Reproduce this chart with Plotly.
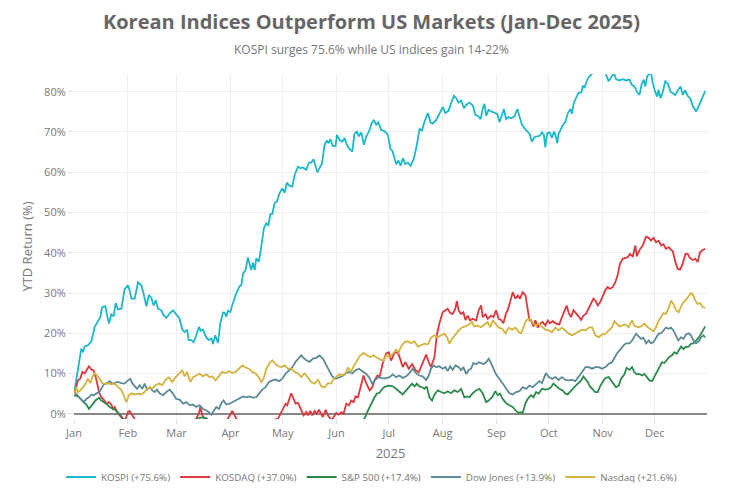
import pandas as pd
import plotly.graph_objects as go

# ---- data: (day offset from 2025-01-01, YTD return %) ----
kospi = [(0,5.0),(1.5,9),(2.9,13.3),(4.2,16.2),(5.2,15.3),(6.1,16.7),(8,17),(10,18),(11.9,21.6),(13.8,22.8),(15.1,23.9),(16.1,26.4),(18,26.7),(19,24.5),(20.1,22.4),(21.5,24.7),(22.8,24.2),(24,27.5),(25.3,25.9),(27.2,26.1),(29.1,30.9),(31,31.9),(32,30.7),(33,28.6),(34.9,28.6),(36.8,32.6),(38.7,31.9),(40,29.9),(41.6,26.7),(43.1,29.5),(44.5,28.8),(45.8,26.9),(47,28.2),(48.3,26.1),(50.2,25.7),(51.5,24.5),(53.1,23.8),(55,24.9),(56.9,25.7),(58.8,24.7),(60.7,23.6),(62.3,20.9),(63.6,20.3),(65,20.9),(66,18.3),(67.5,18.3),(68.8,17.8),(70.3,19.5),(71.9,21.6),(72.8,20.6),(74.2,20.9),(76.1,18.9),(77.6,18.3),(79,18.7),(79.9,17.3),(81.2,19.5),(82.8,17.6),(84.1,22.4),(85.7,25.1),(86.6,25.1),(87.6,24.1),(88.5,25.6),(89.9,25.3),(91.4,27.5),(93.3,29.9),(95.2,31.7),(96.2,31.9),(97.2,34.8),(98.7,35.8),(100,38.8),(101,37.2),(101.9,35.7),(102.9,37.5),(103.9,35.7),(104.8,38.6),(106.3,37.8),(107.7,41.5),(109.2,46.1),(110.6,47.4),(111.7,46.7),(112.9,49.6),(114,49.6),(115.4,52.4),(116.7,52.7),(118.2,54.8),(119.8,56),(121.1,54.9),(122.4,57.4),(124,56.6),(125.5,56.4),(126.9,59.3),(128.8,61.4),(130.1,61),(131.6,61.2),(133.6,60.6),(135.1,62.4),(136.4,62.4),(137.8,63.2),(138.7,61.8),(139.9,60),(141.2,61),(142.6,62.2),(144.1,66.8),(145.4,67.9),(146.4,67.2),(147.4,68.2),(148.9,66.5),(150.4,66.5),(151.2,69.3),(152.7,68),(154.3,67.6),(155.6,68.5),(156.9,66.8),(158.5,65.7),(160,65.1),(161.3,69.5),(162.7,70.1),(163.8,68.9),(165.2,69.9),(166.7,66.8),(168.1,68.9),(169.6,70.1),(170.9,71.8),(172.3,73),(173.8,71.8),(174.9,72.4),(176.7,70.5),(178.6,70.2),(180.5,69.3),(182,65.7),(183,65.4),(184,63.9),(185.3,62),(186.6,62.9),(187.8,61.6),(189.1,63.5),(190.5,62),(192,62.4),(193.5,61.6),(195.5,63.5),(196.8,66),(198.7,70.7),(200.1,70.4),(201.6,72.6),(203.5,74.7),(205,72.4),(206.4,72.1),(208.3,73),(210.2,74.8),(212.1,76.2),(213.5,74.7),(215.4,75.3),(216.9,77.2),(218.5,79),(219.8,78.4),(221.1,77.3),(222.7,77.8),(224.2,75.9),(225.5,76.7),(227.5,77.3),(229.4,76.5),(230.7,74.3),(232.3,74),(233.8,73.2),(235.1,75.9),(236.1,77),(237,74),(238.4,75.5),(239.9,75.1),(241.8,74.7),(243.4,74.5),(244.7,72.4),(246.1,74.2),(247.2,75.7),(248.5,73.2),(249.9,73.7),(251.4,73.4),(253.3,73.9),(254.9,75.7),(256.2,74),(257.6,71.8),(259.1,70.9),(260.6,70.1),(262,69.5),(263.3,67.6),(264.8,68.7),(266.4,68.9),(267.7,69),(269.1,69.9),(270.2,69.3),(271,66.2),(272.1,69.7),(273.5,69.9),(274.8,68.5),(276,70.1),(276.7,69.5),(277.9,67.2),(278.6,69.5),(279.8,70.5),(281.1,71.8),(282.5,72.4),(284,74.7),(285.5,75.7),(286.3,74.5),(287.4,77.2),(288.8,78.7),(290.1,79.7),(291.7,79.8),(292.6,81.5),(293.6,80.9),(294.5,82.3),(295.9,83.6),(297.4,84.2),(298.9,84.8),(300.3,85.5),(301.5,86.5),(303.2,87),(305.1,85.8),(306,84.2),(307.4,82.6),(308.9,83.6),(310.4,84.6),(311.8,83.1),(313.7,82.8),(315.6,83.1),(317.5,82.8),(319.4,83),(320.8,81.7),(322.3,81.3),(323.9,79.8),(325.2,79.2),(326.5,82),(327.7,83),(328.5,81.3),(329.6,83.8),(331,84.6),(332,84.2),(332.9,82),(334.2,80),(335.4,78.8),(336.1,80.5),(337.3,78.4),(338.6,80),(340,82.6),(341.5,82),(343,80),(344.4,79.6),(345.7,79.2),(347.2,80.3),(348.8,81.3),(350.1,79.2),(351.4,80.3),(352.9,79),(354.5,78.2),(355.9,76.3),(357.8,75.1),(359.1,76.3),(360.6,78),(362.2,79.8),(363,80.2)]

kosdaq = [(0,4.6),(1.3,6.6),(2.3,8.3),(3.6,8.7),(4.8,10.4),(6.1,10),(7.5,11.2),(8.6,11.8),(10,11),(11.3,10.8),(12.5,9.1),(13.2,7.5),(14.4,5.4),(15.7,4.1),(17.1,3.5),(18.6,2.5),(20.1,2.9),(21.5,2.3),(22.4,1.2),(23.4,1.7),(24.7,0.4),(26.3,-0.4),(27.8,-1.2),(29,-2.2),(31,0.4),(32,0.7),(33,0),(33.9,-0.8),(34.9,-1.3),(37,-2.5),(42,-4),(48,-5.5),(55,-6),(62,-4.5),(67,-3),(70.3,-1.2),(71.9,0.2),(72.6,1.7),(73.8,-0.4),(75.1,-1.2),(77,-2.5),(82,-3),(86,-2.2),(88.5,-1.2),(89.9,0),(91,0.7),(92.4,-0.4),(93.3,-1.2),(96,-2.5),(102,-3.5),(108,-3),(113,-1.8),(115,-1.5),(117.3,-1.2),(118.6,0),(120.1,1.2),(121.7,2.5),(122.6,2.1),(123.6,3.5),(124.9,5.1),(125.9,4.1),(127.4,2.5),(128.8,2.7),(130.7,0.8),(132,-0.4),(133.6,0.4),(134.5,-0.4),(135.9,0.7),(137,-0.4),(138.4,0.7),(139.7,0),(140.8,1),(142.2,0),(143.1,-0.8),(144.7,1),(146,-0.4),(147.4,-1.2),(148.3,-1.6),(149.3,-0.8),(150.8,0.2),(152.3,-0.2),(153.7,0.4),(155,0),(156.6,2.5),(158.1,2.1),(159.4,3.3),(160.8,2.9),(161.9,4.3),(163.3,4.1),(164.2,5.8),(165.8,8.3),(166.5,9.5),(167.7,7.9),(169,6.6),(170,5.8),(171.5,6.6),(172.8,8.3),(174.5,9.5),(175.8,9.2),(177.5,12.5),(179.5,15),(181,15.3),(182.3,13.2),(184.3,15.1),(186.2,15.3),(187.5,13.7),(189,11.6),(190.6,12.8),(192.5,11.2),(194.4,12.3),(196.3,10.9),(198.2,10.3),(199.6,11.6),(200.9,12.8),(202.5,14.7),(204,12.8),(205.3,11.6),(207.3,14.1),(208.6,19.5),(210.1,22.4),(212,25.2),(213.6,25.7),(214.9,26.1),(216.3,25),(217.8,24.8),(219.3,26.1),(220.1,28),(221.2,25.7),(222.6,24.8),(223.9,25.2),(225.1,23.3),(226.4,24.4),(227.8,23.2),(229.3,23.6),(231.2,23.2),(232.7,25.7),(234.1,26.9),(235,24),(236.6,24.7),(237.9,23.6),(239.8,24.4),(241.2,24),(242.7,25.7),(244.2,23.6),(245.6,23.3),(246.9,22.5),(248.5,25),(249.4,25.7),(250.8,28.1),(252.3,30.2),(253.8,28.6),(255.2,29.4),(256.5,28.6),(258,30.2),(259.6,29.4),(260.9,26.1),(261.9,23.2),(262.8,23.3),(264.2,21.7),(265.3,23.2),(266.7,21.4),(268,22.4),(269.5,22.8),(271.1,21.9),(272.4,23.2),(273.7,22.5),(275.3,23),(277.2,22.4),(279.1,22.2),(280.6,24),(282,25.7),(283.3,26.9),(284.5,25),(285.8,24),(287.2,25.7),(288.7,25),(290.2,24.2),(291.6,23.3),(292.9,24.4),(294.4,24.8),(296,26.1),(297.3,27.3),(298.7,28.6),(299.8,28.1),(301.2,26.9),(302.5,27.7),(304,29),(305.6,30.8),(306.9,31.5),(308.2,31),(309.8,31.5),(311.3,32.7),(312.6,34.4),(314,37.3),(315.5,38.5),(317.1,38.7),(318.4,38.9),(319.7,39.7),(321.3,39.1),(322.8,41.8),(323.6,39.1),(325.1,40.6),(327,41.8),(329,44),(330.5,43.7),(331.8,43),(333.2,43.7),(334.7,42.6),(336.2,43),(337.6,41.8),(338.9,42.1),(340.4,41),(342,41.4),(343.3,40.7),(344.3,40.4),(345.8,37.7),(347.1,36),(348.5,35.8),(350,37.3),(351.6,39.7),(352.9,39.7),(354.2,38.7),(355.8,38.2),(357.3,38.5),(358.6,37.7),(360,40.1),(361.5,40.7),(363,41)]

sp500 = [(0,4.6),(2.3,4.3),(4.2,3.5),(5.6,2.9),(7.1,2.3),(8.6,1.2),(10,2.1),(11.3,2.7),(12.8,3.5),(14.4,4),(15.7,3.3),(17.1,2.9),(18.6,2.5),(20.5,1.7),(22.4,1.2),(24.3,0.8),(25.9,0),(27.2,-0.7),(28.6,-1.3),(32,-2.5),(40,-4),(50,-5),(60,-3.5),(68,-2),(72,-1.0),(74,-0.9),(76,-1.1),(78,-1.8),(85,-5),(95,-9),(105,-10),(115,-8),(125,-9),(135,-7),(145,-6),(155,-5),(162,-3.5),(167.1,-1.2),(168.4,0.2),(170,1.7),(171.5,3.3),(172.8,4.1),(174.2,5),(175.7,5.2),(177.3,6.2),(178.6,6.7),(181,7),(183.3,6.8),(185.2,6.2),(187.1,5.4),(189,4.8),(191,5.8),(192.5,6.6),(194.4,7.5),(195.8,6.8),(197.1,7.5),(198.6,6.8),(200.2,6.6),(201.5,6.2),(202.8,6.8),(204.4,4.1),(205.9,3.3),(207.3,4.8),(209.2,5.8),(211.1,5.4),(213,5.1),(214.9,5.6),(216.8,5.1),(218.7,5.8),(220.7,5.4),(222.6,6.2),(224.5,4.1),(225.8,4.3),(227.4,4.1),(229.3,5.1),(231.2,5.8),(233.1,6.2),(235,5.1),(237,2.9),(238.5,3.3),(240.4,4.1),(242.3,5.6),(243.7,4.6),(245,5),(246.5,3.7),(248.5,2.6),(250.4,2.1),(252.3,1.7),(254.2,0.7),(255.7,0.2),(257.1,0.4),(258,0.2),(259.6,2.6),(260.9,3.7),(262.8,4.6),(264.2,4.1),(265.7,5.4),(267.2,5),(269.1,6.2),(271.1,6),(273,6.2),(274.3,6.6),(275.7,7.5),(277.2,7),(279.1,6.2),(281,5.8),(282.6,5),(283.9,4.8),(285.8,5.8),(287.7,6.6),(289.7,7.5),(291.6,8.3),(292.9,9.3),(294.1,8.7),(295.4,7.9),(296.7,6.8),(298.3,6.2),(299.8,5.4),(301.2,5.4),(302.5,6.8),(304,7.9),(305.6,8.9),(307.5,9.1),(308.8,8.4),(310.2,7.5),(311.7,6.6),(313.2,7),(314.6,8.7),(316.5,9.8),(317.8,11.4),(319.4,10.9),(320.9,11.6),(322.2,10.3),(323.6,9.8),(325.1,9.9),(326.6,9.5),(328,9.9),(329.3,9.3),(330.9,8.3),(332.4,8.1),(333.7,9.1),(335.1,10.3),(336.6,11.6),(338.1,12.8),(339.5,12.6),(340.8,13.4),(342.3,14.1),(343.9,14.5),(345.2,15.3),(346.6,14.9),(348.1,16.1),(349.1,16.7),(350.4,16.1),(351.9,16.6),(353.5,16.7),(354.8,17.4),(356.2,17.5),(357.7,18.2),(359.3,18.9),(360.6,19.9),(361.9,20.9),(363,21.7)]

dow = [(0,4.6),(1.3,5),(2.9,4.1),(4.2,3.5),(5.6,2.9),(7.1,3.7),(8.6,4.1),(10,4.8),(11.3,4.6),(12.8,5),(14.4,5.4),(15.7,6.2),(17.1,7.3),(18.6,7.5),(20.5,8.1),(22,7.5),(23.4,7.6),(25.3,7.9),(27.2,7.6),(29.1,7.5),(31,8.3),(32.4,8.7),(33.5,7.6),(34.9,6.8),(36.2,6.2),(37.8,7.1),(39.3,6.2),(40.6,7.5),(42,6),(43.5,6.6),(45,5.8),(46.4,5.4),(47.7,6),(49.2,5.1),(51.2,4.6),(53.1,5.4),(55,6),(56.9,5),(58.8,3.7),(60.7,3.5),(62.7,2.5),(64.6,2.9),(66.5,2.1),(68.4,2.3),(70.3,1.7),(72.2,2.1),(74.2,1.2),(76.1,0.8),(77.6,0.4),(79,-0.2),(80.3,0.8),(81.8,1.7),(83.4,1.2),(84.7,2.7),(86,3.3),(87.6,2.3),(89.5,2.5),(91.4,2.9),(93.3,3.5),(95.2,3.7),(97.2,4.3),(99.1,4.1),(101,4.3),(102.9,4),(104.8,4.1),(106.4,5),(108.3,6),(110.2,6.6),(112.1,7.9),(114,8.3),(115.9,8.5),(117.9,8.1),(119.8,8.7),(121.7,10),(123.6,10.8),(125.5,11.5),(127.4,12.9),(129.3,13.9),(130.7,14.5),(132,13.9),(133.6,13.3),(135.5,12.9),(137.4,13.7),(139.3,13.9),(141.2,14.5),(143.1,13.7),(145.1,12),(147,10.4),(148.5,9.3),(150.4,8.7),(152.3,9),(154.3,9.3),(156.2,10),(158.1,10.4),(160,10),(161.9,10.8),(163.8,11.2),(165.8,10.6),(167.7,10),(169.6,9.1),(171.5,7.5),(173.4,8.5),(175.3,9.1),(177.3,8.8),(179.2,8.8),(181.4,9.1),(183.3,9.8),(185.2,9.1),(187.1,9.5),(189,8.9),(191,9.3),(192.9,10.1),(194.8,11.2),(196.7,10.1),(198.6,9.5),(200.5,9.3),(202.5,8.4),(204,9.5),(205.3,11.2),(206.7,12),(208.2,11.6),(210.1,11.8),(212,11.2),(213.6,11.6),(214.9,10.6),(216.3,11.8),(217.8,10.9),(219.3,12),(221.2,11.6),(222.6,10.8),(223.9,11.6),(225.5,9.9),(227,10.9),(228.3,11.2),(229.7,12.6),(231.2,12.3),(232.7,12.8),(234.1,12.6),(235.4,12.3),(237,12.8),(238.5,13.7),(239.8,12.6),(241.2,11.2),(242.7,9.8),(244.6,8.7),(246.5,7.6),(248.5,6.5),(250.4,5.1),(252.3,4.8),(254.2,5.4),(256.1,5.6),(258,6.6),(260,6.2),(261.9,7),(263.8,6.6),(265.7,7.3),(267.6,8.1),(269.1,7.6),(270.5,9.1),(271.4,10.1),(273,9.1),(274.9,8.7),(276.8,9.1),(278.7,8.4),(280.6,9.1),(282.6,8.4),(284.5,8.3),(286.4,8.4),(288.3,8.1),(290.2,9.1),(292.1,10.3),(294.1,11.6),(296,11.6),(297.9,11.2),(299.8,11.6),(301.7,11.6),(303.6,11.2),(305.6,11.6),(307.5,12.4),(309.4,12.8),(310.7,13.9),(312.1,14.9),(313.6,15.7),(315.1,16.6),(316.5,17.2),(317.8,17.5),(319.4,17.5),(320.9,18.2),(322.2,19),(323.2,19.9),(324.7,19.2),(326.1,18.6),(327.4,18.9),(329,17.5),(330.5,18.2),(331.8,17.5),(333.2,17.8),(334.7,19),(336.2,19.9),(337.6,20),(338.9,20.7),(340.4,21.4),(342,21.1),(343.3,21.4),(344.7,20.7),(346.2,19.2),(347.5,18.2),(349.1,19),(350.4,18.6),(351.9,19.7),(353.5,20),(354.8,19.5),(356.2,18.2),(357.7,17.5),(359.3,18),(360.6,19),(361.9,19.5),(363,18.9)]

nasdaq = [(0,4.8),(1.3,6.6),(2.3,5.4),(3.6,5.8),(5.2,6.6),(6.7,7.5),(8,8.7),(9.4,7.6),(10.5,9.1),(11.9,10.1),(13.2,9.5),(14.8,8.7),(16.3,7.6),(17.6,7.5),(19.5,7.6),(21.5,7.3),(23.4,7.5),(25.3,6.6),(27.2,6),(29.1,4.1),(30.1,2.9),(31.6,4.6),(33,5.1),(34.9,4.8),(36.8,5),(38.7,4.8),(40.6,5.4),(42,6.2),(43.5,6.6),(45,6.2),(46.9,7.1),(48.9,7.5),(50.8,7.1),(52.7,8.5),(54.6,9),(56.5,7.9),(58.4,9.1),(60.4,10),(62.3,10.8),(63.6,9.3),(65,10.4),(66.9,7.9),(68.4,9.1),(70.3,9.5),(72.2,10),(74.2,9.3),(76.1,9.8),(78,9.1),(79.5,9.3),(81.4,8.3),(83.4,9.5),(85.3,10.4),(87.2,10.1),(89.1,10.6),(91,10.1),(92.9,10.4),(94.9,11.2),(96.8,12),(98.7,11.5),(100.6,11.2),(102.5,10.4),(104.4,10),(106.4,9),(107.7,7.9),(109,8.7),(110.6,11.2),(112.5,12.6),(114,13.3),(115.4,12.6),(117.3,11.8),(119.2,11.6),(121.1,12),(123,11.2),(124.9,11.2),(126.9,10.4),(128.8,10),(130.7,9.1),(132.6,10),(134.5,9),(136.4,7.9),(138.4,7.5),(140.3,8.5),(142.2,6.8),(144.1,6.6),(146,7.6),(147.9,7.5),(149.3,8.7),(150.8,9.1),(152.7,9.8),(154.3,9.5),(156.2,10.1),(157.5,11.5),(159.4,10.4),(160.8,11.8),(162.7,13.1),(164.6,14.5),(166.5,15.1),(168.4,14.5),(170.4,14.1),(172.3,14.5),(174.2,13.9),(176.1,13.4),(178,13.1),(179.5,14.5),(181.4,14.1),(183.3,14.9),(185.2,15.9),(186.7,15.3),(188.1,16.7),(190,17.8),(191.9,18),(193.8,17.5),(195.8,18),(197.7,16.7),(199.6,17),(201.5,17.4),(203.4,17.2),(205.3,18.9),(207.3,19.5),(209.2,19),(211.1,19.5),(213,19.9),(214.5,19),(215.9,17.4),(217.4,18.6),(219.3,19.7),(221.2,20.7),(223.2,21.5),(225.1,21.7),(227,22.2),(228.9,22.8),(230.2,21.7),(232.2,21.9),(234.1,21.5),(236,22.2),(237.9,22.8),(239.3,21.5),(240.8,23.2),(242.3,22.4),(244.2,21.4),(246.2,21.1),(248.1,20),(250,21.4),(251.9,20.9),(253.8,21.4),(255.7,20.3),(257.1,20),(258.4,21.7),(260,23.2),(261.5,23.6),(262.8,23.2),(264.2,22.4),(265.7,21.9),(267.2,22.4),(269.1,21.7),(271.1,20.9),(273,20.7),(274.9,20.3),(276.8,21.4),(278.7,20.7),(280.6,21.4),(282.6,20.7),(284.5,19.9),(286.4,19.5),(288.3,19.9),(290.2,20.3),(292.1,20.9),(294.1,20.7),(296,21.4),(297.9,21.5),(299.8,19.5),(301.7,19),(303.6,19.7),(305.6,19.9),(307.5,20.7),(309.4,21.5),(310.7,23),(312.1,22.4),(313.6,21.7),(315.1,21.9),(317,22.2),(318.9,21.5),(320.9,23.2),(322.2,21.9),(324.1,21.5),(326.1,21.7),(328,22.4),(329.9,21.5),(331.8,20.9),(333.2,20.5),(334.7,21.5),(336.2,23.2),(337.6,24),(338.9,25),(340.4,24.8),(342,26.3),(343.3,28.1),(344.7,27.3),(346.2,25.7),(347.7,25.2),(349.1,26.7),(350.4,27.7),(351.9,28.3),(353.5,29.4),(354.8,30),(355.8,29.6),(357.3,28.1),(358.6,27.3),(360,27.5),(361.5,26.5),(363,26.3)]

series_names = ["KOSPI (+75.6%)", "KOSDAQ (+37.0%)", "S&P 500 (+17.4%)", "Dow Jones (+13.9%)", "Nasdaq (+21.6%)"]
series_data = [kospi, kosdaq, sp500, dow, nasdaq]
series_colors = ["#1db7cc", "#d9393f", "#2b8a4e", "#5c8a95", "#d4b33f"]

base = pd.Timestamp("2025-01-01")

fig = go.Figure()
for name, data, color in zip(series_names, series_data, series_colors):
    days = [d for d, _ in data]
    vals = [v for _, v in data]
    dates = base + pd.to_timedelta(days, unit="D")
    fig.add_trace(go.Scatter(x=dates, y=vals, mode="lines", name=name,
                             line=dict(color=color, width=1.8)))

fig.update_layout(
    width=743, height=495,
    margin=dict(l=74, r=36, t=74, b=76, autoexpand=False),
    paper_bgcolor="white", plot_bgcolor="white",
    font=dict(family="Open Sans", color="#777777", size=11),
    title=dict(text="<b>Korean Indices Outperform US Markets (Jan-Dec 2025)</b>",
               x=0.5, xanchor="center", y=1 - 22 / 495, yanchor="middle",
               font=dict(size=20, color="#666666")),
    legend=dict(orientation="h", x=0.47, xanchor="center",
                yref="container", y=1 - 477 / 495, yanchor="middle",
                font=dict(size=9.8, color="#777777"), itemwidth=30),
    annotations=[dict(text="KOSPI surges 75.6% while US indices gain 14-22%",
                      xref="paper", yref="paper", x=0.47, y=1.0697,
                      xanchor="center", yanchor="middle", showarrow=False,
                      font=dict(size=12, color="#777777"))],
)
fig.update_xaxes(
    type="date", range=["2025-01-01", "2025-12-31"], dtick="M1", tickformat="%b",
    tick0="2025-01-01",
    showgrid=True, gridcolor="#eeeeee", gridwidth=1,
    ticks="outside", ticklen=4, tickcolor="#dddddd",
    showline=False, zeroline=False,
    title=dict(text="2025", font=dict(size=13, color="#777777"), standoff=17),
)
fig.update_yaxes(
    range=[-1.3, 84.4], dtick=10, ticksuffix="%",
    showgrid=True, gridcolor="#eeeeee", gridwidth=1,
    ticks="outside", ticklen=5, tickcolor="#dddddd",
    zeroline=True, zerolinecolor="#888888", zerolinewidth=1.5,
    showline=False,
    title=dict(text="YTD Return (%)", font=dict(size=13, color="#777777"), standoff=8),
)

fig.write_html("out.html")
